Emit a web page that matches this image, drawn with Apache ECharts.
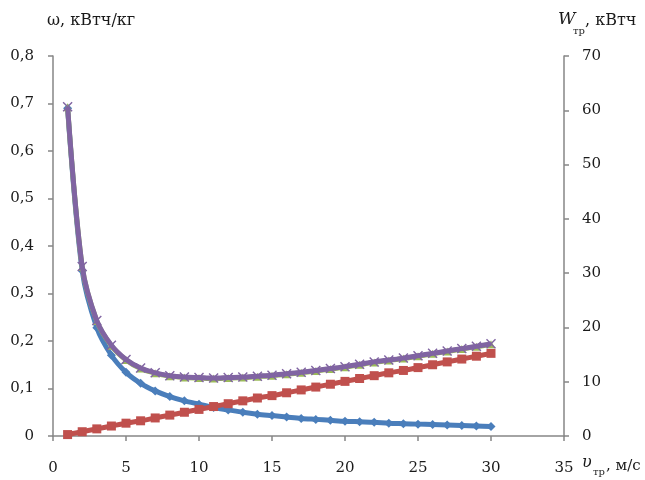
<!DOCTYPE html>
<html>
<head>
<meta charset="utf-8">
<script src="https://cdn.jsdelivr.net/npm/echarts@6/dist/echarts.min.js"></script>
<style>html,body{margin:0;padding:0;background:#fff}#c{width:645px;height:480px}</style>
</head>
<body>
<div id="c"></div>
<script>
var xValues = [1,2,3,4,5,6,7,8,9,10,11,12,13,14,15,16,17,18,19,20,21,22,23,24,25,26,27,28,29,30];
var omegaBlue = [0.690,0.348,0.228,0.170,0.134,0.111,0.095,0.083,0.074,0.067,0.060,0.055,0.050,0.046,0.043,0.040,0.037,0.035,0.033,0.031,0.030,0.029,0.027,0.026,0.025,0.024,0.023,0.022,0.021,0.020];
var omegaRed = [0.003,0.009,0.015,0.021,0.027,0.032,0.038,0.044,0.050,0.056,0.062,0.068,0.074,0.080,0.085,0.091,0.097,0.103,0.109,0.115,0.121,0.127,0.133,0.138,0.144,0.150,0.156,0.162,0.168,0.174];
var omegaGreen = [0.692,0.356,0.242,0.190,0.160,0.142,0.132,0.126,0.123,0.122,0.121,0.122,0.123,0.125,0.127,0.130,0.133,0.137,0.141,0.145,0.150,0.155,0.159,0.163,0.168,0.173,0.178,0.183,0.188,0.193];
var omegaPurple = [0.693,0.357,0.243,0.191,0.161,0.143,0.133,0.127,0.124,0.123,0.122,0.123,0.124,0.126,0.128,0.131,0.134,0.138,0.142,0.146,0.151,0.156,0.160,0.164,0.169,0.174,0.179,0.184,0.189,0.194];

function pairs(ys){ return xValues.map(function(x,i){ return [x, ys[i]]; }); }

var FONT = 'DejaVu Serif';
var FS = 15;
var TXT = '#1a1a1a';
var AX = '#868686';

var chart = echarts.init(document.getElementById('c'), null, {renderer:'canvas'});
var crossPath = 'path://M1,0L5,4L9,0L10,1L6,5L10,9L9,10L5,6L1,10L0,9L4,5L0,1Z';

function lineSeries(name, data, color, symbol, size, z){
  return {
    name: name, type: 'line', yAxisIndex: 0, data: pairs(data),
    smooth: 0.3, symbol: symbol, symbolSize: size, showAllSymbol: true,
    lineStyle: {color: color, width: 5},
    itemStyle: {color: color},
    z: z, animation: false
  };
}

chart.setOption({
  animation: false,
  grid: {left: 53, right: 81, top: 56, bottom: 44, containLabel: false},
  xAxis: {
    type: 'value', min: 0, max: 35, interval: 5,
    axisLine: {show: true, onZero: false, lineStyle: {color: AX, width: 1.5}},
    axisTick: {show: true, inside: false, length: 5, lineStyle: {color: AX, width: 1.5}},
    splitLine: {show: false},
    axisLabel: {margin: 25, color: TXT, fontFamily: FONT, fontSize: FS}
  },
  yAxis: [{
    type: 'value', min: 0, max: 0.8, interval: 0.1, position: 'left',
    axisLine: {show: true, lineStyle: {color: AX, width: 1.5}},
    axisTick: {show: true, inside: false, length: 5, lineStyle: {color: AX, width: 1.5}},
    splitLine: {show: false},
    axisLabel: {margin: 19, color: TXT, fontFamily: FONT, fontSize: FS,
      formatter: function(v){ return v === 0 ? '0' : v.toFixed(1).replace('.', ','); }}
  },{
    type: 'value', min: 0, max: 70, interval: 10, position: 'right',
    axisLine: {show: true, lineStyle: {color: AX, width: 1.5}},
    axisTick: {show: true, inside: false, length: 5, lineStyle: {color: AX, width: 1.5}},
    splitLine: {show: false},
    axisLabel: {margin: 18, color: TXT, fontFamily: FONT, fontSize: FS}
  }],
  series: [
    lineSeries('blue', omegaBlue, '#4a7ebb', 'diamond', 9, 2),
    lineSeries('red', omegaRed, '#c0504d', 'rect', 9, 3),
    lineSeries('green', omegaGreen, '#9bbb59', 'triangle', 8, 4),
    lineSeries('purple', omegaPurple, '#8064a2', crossPath, 10, 5)
  ],
  graphic: [
    {type:'text', left: 47, top: 13, style:{text:'ω, кВтч/кг', font: '16px "'+FONT+'"', fill: TXT}},
    {type:'text', left: 558, top: 11, style:{text:'W', font: 'italic 17px "'+FONT+'"', fill: TXT}},
    {type:'text', left: 573, top: 26, style:{text:'тр', font: '10px "'+FONT+'"', fill: TXT}},
    {type:'text', left: 585, top: 13, style:{text:', кВтч', font: '16px "'+FONT+'"', fill: TXT}},
    {type:'text', left: 582, top: 455, style:{text:'υ', font: 'italic 16px "'+FONT+'"', fill: TXT}},
    {type:'text', left: 593, top: 467, style:{text:'тр', font: '10px "'+FONT+'"', fill: TXT}},
    {type:'text', left: 606, top: 459, style:{text:', м/с', font: '15px "'+FONT+'"', fill: TXT}}
  ]
});
</script>
</body>
</html>
